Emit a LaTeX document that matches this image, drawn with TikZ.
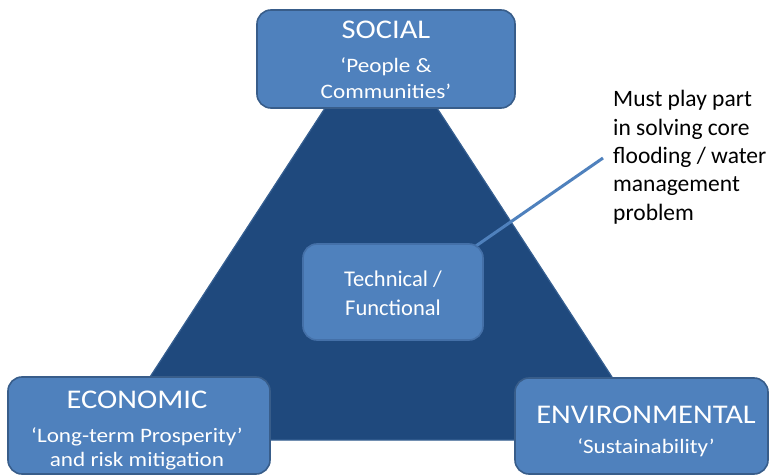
\documentclass[tikz,border=0pt]{standalone}
\usepackage{fontspec}
\setmainfont{Carlito}
\usetikzlibrary{calc}
\definecolor{boxblue}{HTML}{4F81BD}
\definecolor{boxedge}{HTML}{385D8A}
\definecolor{tridark}{HTML}{1F497D}
\definecolor{triedge}{HTML}{365F91}
\definecolor{techedge}{HTML}{4470A8}
% widen corner-box lettering
\newcommand{\widetext}[1]{\scalebox{1.13}[1]{#1}}
\begin{document}
\begin{tikzpicture}[x=1pt,y=-1pt,
  pillar/.style={draw=boxedge, line width=1.6pt, fill=boxblue, rounded corners=14pt, inner sep=0pt},
  techbox/.style={draw=techedge, line width=1.6pt, fill=boxblue, rounded corners=14pt, inner sep=0pt},
  title/.style={text=white, font=\fontsize{27}{32}\selectfont, anchor=base, inner sep=0pt},
  sub/.style={text=white, font=\fontsize{20.5}{24}\selectfont, anchor=base, inner sep=0pt},
  techtext/.style={text=white, font=\fontsize{22.5}{28}\selectfont, anchor=base, inner sep=0pt},
  note/.style={text=black, font=\fontsize{23.5}{28.3}\selectfont, align=left, anchor=base west, inner sep=0pt}]
\useasboundingbox (0,0) rectangle (769,476);

% central triangle
\coordinate (apex) at (381,22);
\coordinate (rightfoot) at (653,440);
\coordinate (leftfoot) at (109,440);
\path[fill=tridark, draw=triedge, line width=1.2pt] (apex) -- (rightfoot) -- (leftfoot) -- cycle;

% callout text (placed by its last baseline) and leader line
\node[note] (callout) at (613,220) {Must play part\\in solving core\\flooding / water\\management\\problem};
\coordinate (callend) at (603,158);
\coordinate (callfoot) at (395,302);
\draw[boxblue, line width=3pt] (callfoot) -- (callend);

% centre box
\node[techbox, minimum width=180pt, minimum height=96pt] (tech) at (393,292) {};
\node[techtext] (tech1) at (393,286.7) {Technical /};
\node[techtext] (tech2) at (393,315) {Functional};

% social box
\node[pillar, minimum width=258pt, minimum height=98pt] (social) at (386,59) {};
\node[title] (socialT) at (386,39) {\widetext{SOCIAL}};
\node[sub] (socialA) at (386,73) {\widetext{‘People \&}};
\node[sub] (socialB) at (386,99) {\widetext{Communities’}};

% economic box
\node[pillar, minimum width=262pt, minimum height=97pt] (econ) at (139,425.5) {};
\node[title] (econT) at (137,408) {\widetext{ECONOMIC}};
\node[sub] (econA) at (137,442) {\widetext{‘Long-term Prosperity’}};
\node[sub] (econB) at (137,466) {\widetext{and risk mitigation}};

% environmental box
\node[pillar, minimum width=253pt, minimum height=96pt] (env) at (641.5,426) {};
\node[title] (envT) at (646,423) {\widetext{ENVIRONMENTAL}};
\node[sub] (envA) at (646,453) {\widetext{‘Sustainability’}};
\end{tikzpicture}
\end{document}
